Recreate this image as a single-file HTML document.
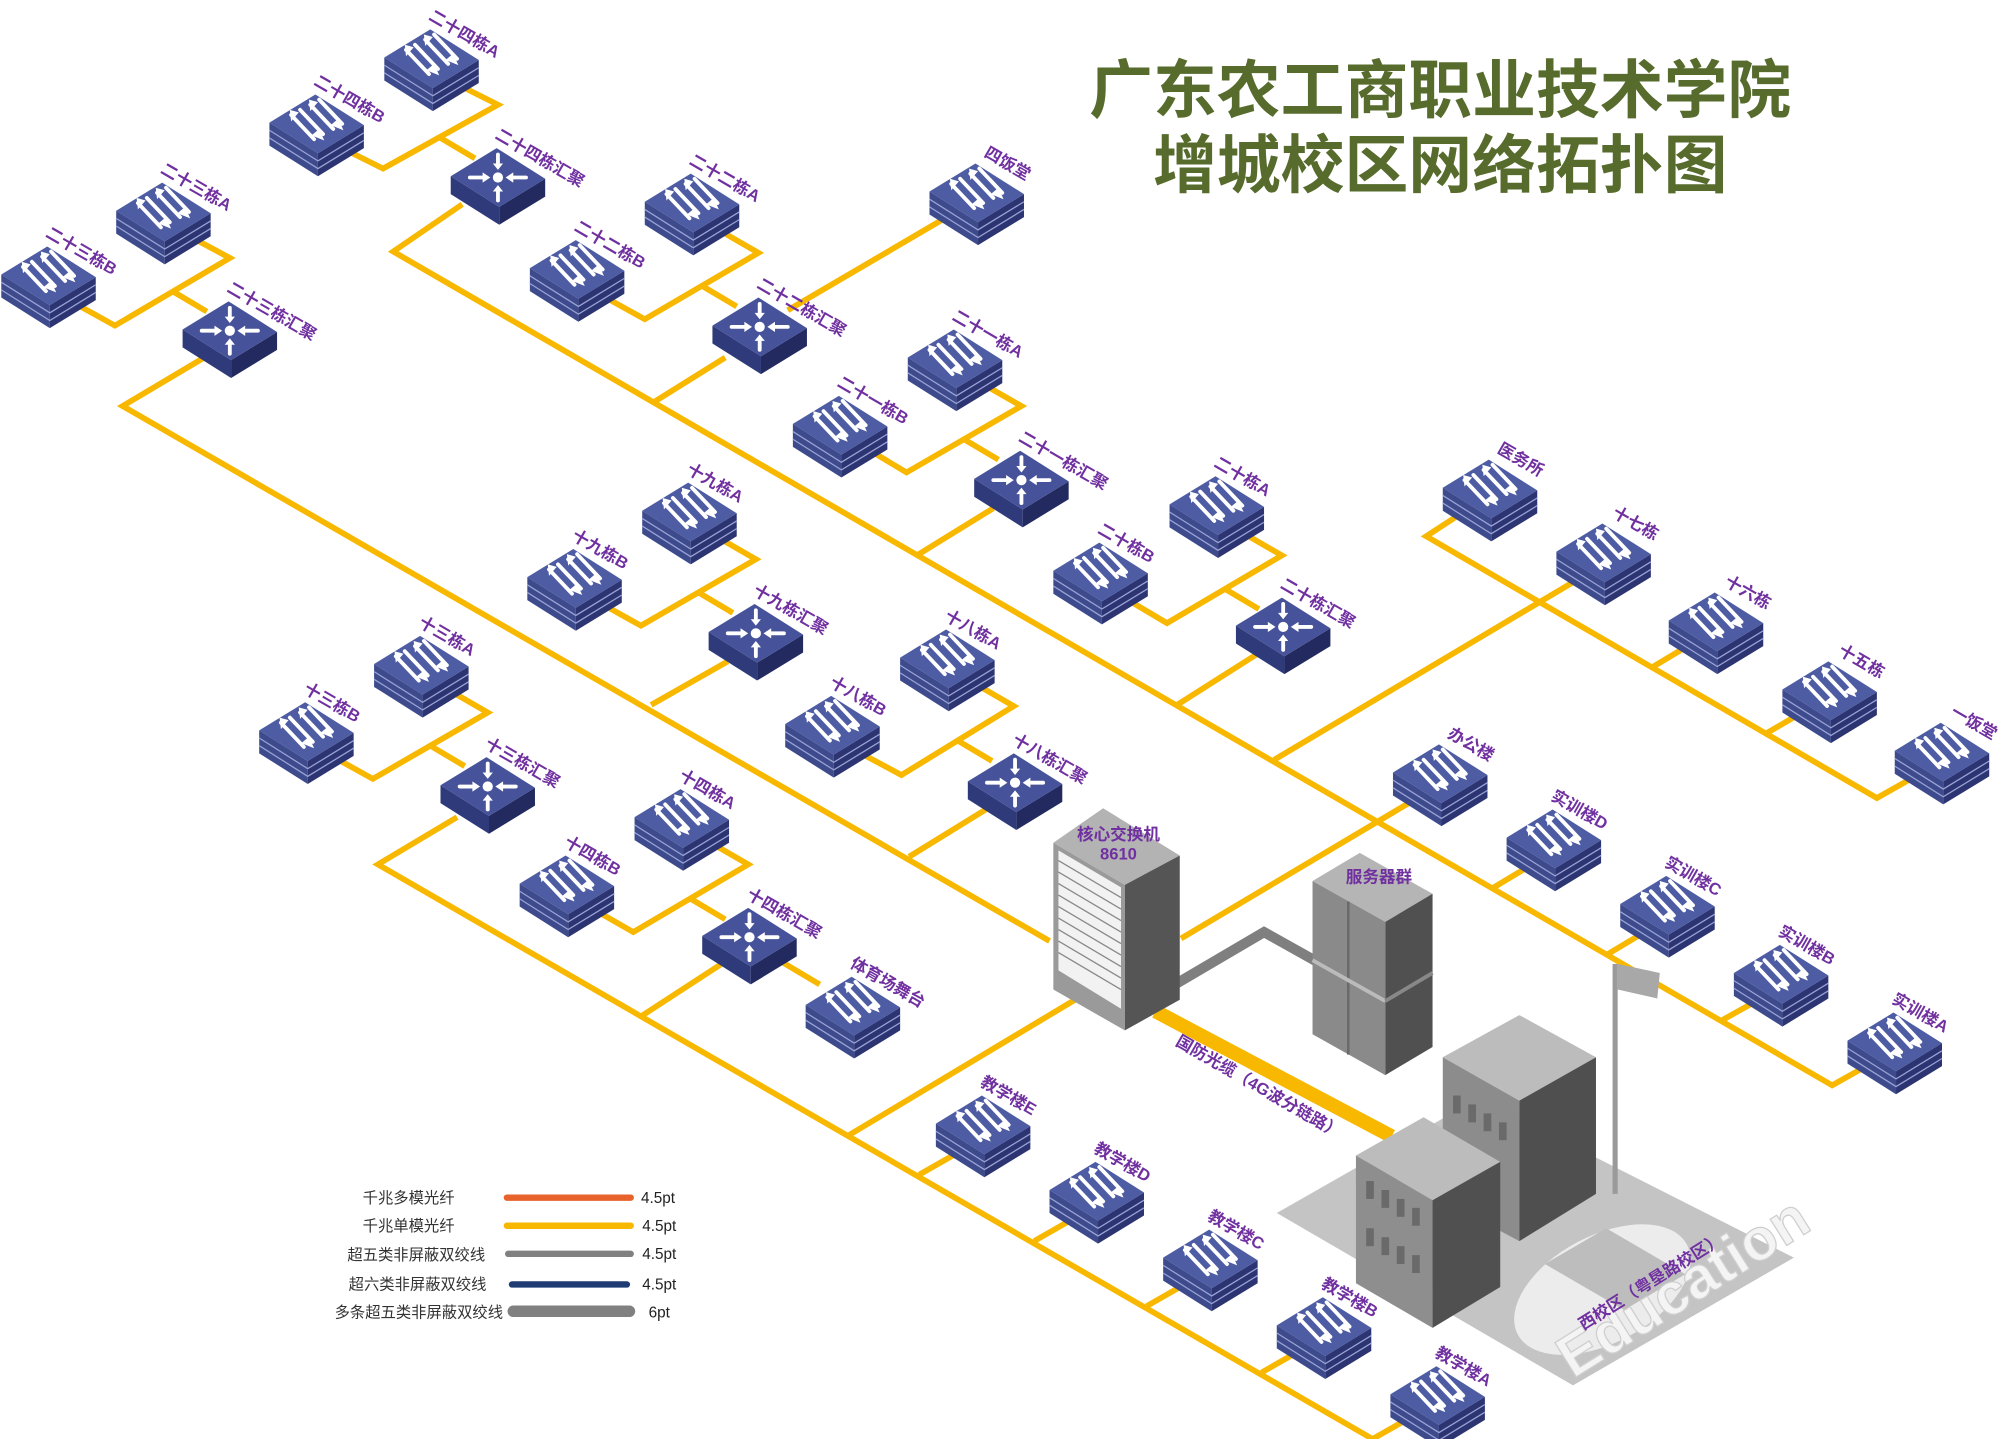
<!DOCTYPE html>
<html><head><meta charset="utf-8"><style>
html,body{margin:0;padding:0;background:#fff;}
svg{display:block;}
text{font-family:"Liberation Sans","Noto Sans CJK SC",sans-serif;}
.lb{fill:#7030a0;font-size:13px;font-weight:bold;}
</style></head><body>
<svg width="2002" height="1439" viewBox="0 0 1568 1127" xmlns="http://www.w3.org/2000/svg">
<defs>
<g id="sw">
 <polygon points="-37,0 1,24 1,42 -37,18" fill="#3d4a8c"/>
 <polygon points="1,24 37,2 37,20 1,42" fill="#2c3572"/>
 <polyline points="-37,6 1,30 37,8" fill="none" stroke="#9aa3d6" stroke-width="1"/>
 <polyline points="-37,12 1,36 37,14" fill="none" stroke="#9aa3d6" stroke-width="1"/>
 <polygon points="-37,0 -1,-22 37,2 1,24" fill="#4d5ca3"/>
 <g stroke="#fff" stroke-width="3" fill="none" stroke-linecap="round">
  <line x1="-20" y1="-6" x2="-2" y2="13"/>
  <line x1="-13" y1="-10" x2="5" y2="9"/>
  <line x1="-5" y1="-14" x2="13" y2="5"/>
  <line x1="2" y1="-18" x2="20" y2="1"/>
 </g>
 <g fill="#fff">
  <polygon points="-21,-10 -20,-1 -14,-8"/>
  <polygon points="6,14 -4,10 2,5"/>
  <polygon points="-6,-18 -5,-9 1,-16"/>
  <polygon points="21,6 11,2 17,-3"/>
 </g>
</g>
<g id="ag">
 <polygon points="-37,0 1,24 1,38 -37,14" fill="#2f3a7a"/>
 <polygon points="1,24 37,2 37,16 1,38" fill="#222a60"/>
 <polygon points="-37,0 -1,-22 37,2 1,24" fill="#46539a"/>
 <circle cx="0" cy="1" r="4" fill="#fff"/>
 <g stroke="#fff" stroke-width="3" stroke-linecap="round">
  <line x1="-22" y1="1" x2="-9" y2="1"/><line x1="22" y1="1" x2="9" y2="1"/>
  <line x1="0" y1="-17" x2="0" y2="-8"/><line x1="0" y1="19" x2="0" y2="10"/>
 </g>
 <g fill="#fff">
  <polygon points="-6,1 -12,-3 -12,5"/><polygon points="6,1 12,-3 12,5"/>
  <polygon points="0,-5 -4,-10 4,-10"/><polygon points="0,7 -4,12 4,12"/>
 </g>
</g>
</defs>

<!-- title -->
<text x="1128" y="88" text-anchor="middle" font-size="50" font-weight="bold" fill="#566b2c">广东农工商职业技术学院</text>
<text x="1128" y="147" text-anchor="middle" font-size="50" font-weight="bold" fill="#566b2c">增城校区网络拓扑图</text>

<!-- yellow lines -->
<g fill="none" stroke="#f8b800" stroke-width="4.5" stroke-linejoin="miter">
 <polyline points="362,68 390,82 300,132 272,118"/><line x1="345" y1="108" x2="372" y2="124"/>
 <polyline points="362,160 308,197 1435,850 1460,836"/>
 <polyline points="154,188 180,202 90,255 63,240"/><line x1="135" y1="228" x2="162" y2="244"/>
 <polyline points="160,280 96,318 822,737"/>
 <polyline points="568,183 594,198 505,250 478,235"/><line x1="550" y1="224" x2="577" y2="240"/>
 <polyline points="568,280 512,315"/>
 <line x1="745" y1="168" x2="617" y2="243"/>
 <polyline points="772,302 800,318 710,370 685,355"/><line x1="755" y1="344" x2="782" y2="360"/>
 <polyline points="778,398 718,435"/>
 <polyline points="978,420 1004,435 914,488 887,472"/><line x1="959" y1="461" x2="986" y2="477"/>
 <polyline points="985,512 922,552"/>
 <polyline points="566,423 592,438 502,490 475,475"/><line x1="547" y1="464" x2="574" y2="480"/>
 <polyline points="570,518 510,552"/>
 <polyline points="768,538 794,553 706,607 678,592"/><line x1="750" y1="580" x2="777" y2="596"/>
 <polyline points="772,634 712,671"/>
 <polyline points="356,543 382,558 292,610 265,595"/><line x1="337" y1="584" x2="364" y2="600"/>
 <polyline points="358,640 296,677 1075,1127 1105,1110"/>
 <polyline points="560,662 586,677 496,730 468,714"/><line x1="541" y1="704" x2="568" y2="720"/>
 <polyline points="565,755 502,796"/>
 <line x1="610" y1="752" x2="642" y2="771"/>
 <line x1="842" y1="783" x2="665" y2="889"/>
 <line x1="1232" y1="456" x2="998" y2="595"/>
 <line x1="925" y1="735" x2="1105" y2="628"/>
 <polyline points="1140,405 1117,420 1470,625 1500,608"/>
 <line x1="1295" y1="522" x2="1320" y2="507"/>
 <line x1="1384" y1="574" x2="1408" y2="560"/>
 <line x1="1170" y1="695" x2="1195" y2="680"/>
 <line x1="1258" y1="748" x2="1283" y2="733"/>
 <line x1="1347" y1="800" x2="1372" y2="786"/>
 <line x1="720" y1="920" x2="748" y2="904"/>
 <line x1="810" y1="972" x2="838" y2="956"/>
 <line x1="898" y1="1023" x2="926" y2="1007"/>
 <line x1="988" y1="1075" x2="1016" y2="1059"/>
</g>

<!-- gray link -->
<polyline points="922,770 990,730 1040,758" fill="none" stroke="#7f7f7f" stroke-width="8"/>
<!-- thick fibre -->
<line x1="905" y1="792" x2="1090" y2="890" stroke="#f8b800" stroke-width="11"/>
<text class="lb" transform="translate(920,818) rotate(30)" font-size="13">国防光缆（4G波分链路）</text>

<!-- campus -->
<polygon points="1000,950 1158,860 1405,985 1232,1085" fill="#c4c4c4"/>
<ellipse cx="1255" cy="1010" rx="75" ry="42" fill="#ececec" transform="rotate(-28 1255 1010)"/>
<polygon points="1210,990 1258,962 1320,998 1272,1026" fill="#bdbdbd"/>
<polygon points="1130,828 1190,795 1250,828 1190,862" fill="#bcbcbc"/>
<polygon points="1130,828 1190,862 1190,972 1130,940" fill="#8c8c8c"/>
<polygon points="1190,862 1250,828 1250,935 1190,972" fill="#4f4f4f"/>
<polygon points="1062,905 1115,875 1175,910 1122,940" fill="#bcbcbc"/>
<polygon points="1062,905 1122,940 1122,1040 1062,1005" fill="#8e8e8e"/>
<polygon points="1122,940 1175,910 1175,1008 1122,1040" fill="#505050"/>
<g fill="#6a6a6a">
 <rect x="1070" y="925" width="6" height="14"/><rect x="1082" y="932" width="6" height="14"/><rect x="1094" y="939" width="6" height="14"/><rect x="1106" y="946" width="6" height="14"/>
 <rect x="1070" y="962" width="6" height="14"/><rect x="1082" y="969" width="6" height="14"/><rect x="1094" y="976" width="6" height="14"/><rect x="1106" y="983" width="6" height="14"/>
 <rect x="1138" y="858" width="6" height="14"/><rect x="1150" y="865" width="6" height="14"/><rect x="1162" y="872" width="6" height="14"/><rect x="1174" y="879" width="6" height="14"/>
</g>
<line x1="1265" y1="755" x2="1265" y2="935" stroke="#9a9a9a" stroke-width="4"/>
<polygon points="1267,755 1300,762 1298,782 1267,775" fill="#a8a8a8"/>
<text transform="translate(1232,1080) rotate(-32)" font-size="46" font-weight="bold" fill="#f4f4f4" stroke="#cfcfcf" stroke-width="1">Education</text>
<text class="lb" transform="translate(1240,1042) rotate(-32)" font-size="14">西校区（粤垦路校区）</text>

<!-- core switch -->
<polygon points="825,660 864,633 924,670 881,693" fill="#b3b3b3"/>
<polygon points="825,660 881,693 881,807 825,775" fill="#9a9a9a"/>
<polygon points="881,693 924,670 924,783 881,807" fill="#555"/>
<polygon points="829,666 878,695 878,790 829,760" fill="#f2f2f2"/>
<g stroke="#888" stroke-width="1">
 <line x1="829" y1="674" x2="878" y2="703"/><line x1="829" y1="683" x2="878" y2="712"/><line x1="829" y1="692" x2="878" y2="721"/><line x1="829" y1="701" x2="878" y2="730"/><line x1="829" y1="710" x2="878" y2="739"/><line x1="829" y1="719" x2="878" y2="748"/><line x1="829" y1="728" x2="878" y2="757"/><line x1="829" y1="737" x2="878" y2="766"/><line x1="829" y1="746" x2="878" y2="775"/>
</g>
<text class="lb" x="876" y="658" text-anchor="middle" font-size="12">核心交换机</text>
<text class="lb" x="876" y="673" text-anchor="middle" font-size="12">8610</text>

<!-- servers -->
<polygon points="1028,690 1065,668 1122,700 1085,722" fill="#b5b5b5"/>
<polygon points="1028,690 1085,722 1085,842 1028,810" fill="#8a8a8a"/>
<polygon points="1085,722 1122,700 1122,820 1085,842" fill="#505050"/>
<line x1="1056" y1="706" x2="1056" y2="826" stroke="#6a6a6a" stroke-width="2"/>
<line x1="1028" y1="752" x2="1085" y2="784" stroke="#bbb" stroke-width="3"/>
<line x1="1085" y1="784" x2="1122" y2="762" stroke="#888" stroke-width="3"/>
<text class="lb" x="1080" y="691" text-anchor="middle" font-size="14">服务器群</text>

<!-- switches -->
<g>
<use href="#sw" x="338" y="45"/><use href="#sw" x="248" y="96"/>
<use href="#sw" x="128" y="165"/><use href="#sw" x="38" y="215"/>
<use href="#ag" x="390" y="138"/><use href="#ag" x="180" y="258"/>
<use href="#sw" x="542" y="158"/><use href="#sw" x="452" y="210"/><use href="#ag" x="595" y="255"/>
<use href="#sw" x="765" y="150"/>
<use href="#sw" x="748" y="280"/><use href="#sw" x="658" y="332"/><use href="#ag" x="800" y="375"/>
<use href="#sw" x="953" y="395"/><use href="#sw" x="862" y="447"/><use href="#ag" x="1005" y="490"/>
<use href="#sw" x="540" y="400"/><use href="#sw" x="450" y="452"/><use href="#ag" x="592" y="495"/>
<use href="#sw" x="742" y="515"/><use href="#sw" x="652" y="567"/><use href="#ag" x="795" y="612"/>
<use href="#sw" x="330" y="520"/><use href="#sw" x="240" y="572"/><use href="#ag" x="382" y="615"/>
<use href="#sw" x="534" y="640"/><use href="#sw" x="444" y="692"/><use href="#ag" x="587" y="733"/>
<use href="#sw" x="668" y="787"/>
<use href="#sw" x="1167" y="382"/><use href="#sw" x="1256" y="432"/><use href="#sw" x="1344" y="486"/><use href="#sw" x="1433" y="540"/><use href="#sw" x="1521" y="588"/>
<use href="#sw" x="1128" y="605"/><use href="#sw" x="1217" y="656"/><use href="#sw" x="1306" y="708"/><use href="#sw" x="1395" y="762"/><use href="#sw" x="1484" y="815"/>
<use href="#sw" x="770" y="880"/><use href="#sw" x="859" y="932"/><use href="#sw" x="948" y="985"/><use href="#sw" x="1037" y="1038"/><use href="#sw" x="1126" y="1092"/>
</g>

<!-- labels -->
<g class="lb">
<text transform="translate(335,15) rotate(30)">二十四栋A</text>
<text transform="translate(245,66) rotate(30)">二十四栋B</text>
<text transform="translate(125,135) rotate(30)">二十三栋A</text>
<text transform="translate(35,185) rotate(30)">二十三栋B</text>
<text transform="translate(387,108) rotate(30)">二十四栋汇聚</text>
<text transform="translate(177,228) rotate(30)">二十三栋汇聚</text>
<text transform="translate(539,128) rotate(30)">二十二栋A</text>
<text transform="translate(449,180) rotate(30)">二十二栋B</text>
<text transform="translate(592,225) rotate(30)">二十二栋汇聚</text>
<text transform="translate(770,122) rotate(30)">四饭堂</text>
<text transform="translate(745,250) rotate(30)">二十一栋A</text>
<text transform="translate(655,302) rotate(30)">二十一栋B</text>
<text transform="translate(797,345) rotate(30)">二十一栋汇聚</text>
<text transform="translate(950,365) rotate(30)">二十栋A</text>
<text transform="translate(859,417) rotate(30)">二十栋B</text>
<text transform="translate(1002,460) rotate(30)">二十栋汇聚</text>
<text transform="translate(537,370) rotate(30)">十九栋A</text>
<text transform="translate(447,422) rotate(30)">十九栋B</text>
<text transform="translate(589,465) rotate(30)">十九栋汇聚</text>
<text transform="translate(739,485) rotate(30)">十八栋A</text>
<text transform="translate(649,537) rotate(30)">十八栋B</text>
<text transform="translate(792,582) rotate(30)">十八栋汇聚</text>
<text transform="translate(327,490) rotate(30)">十三栋A</text>
<text transform="translate(237,542) rotate(30)">十三栋B</text>
<text transform="translate(379,585) rotate(30)">十三栋汇聚</text>
<text transform="translate(531,610) rotate(30)">十四栋A</text>
<text transform="translate(441,662) rotate(30)">十四栋B</text>
<text transform="translate(584,703) rotate(30)">十四栋汇聚</text>
<text transform="translate(665,757) rotate(30)">体育场舞台</text>
<text transform="translate(1172,354) rotate(30)">医务所</text>
<text transform="translate(1262,404) rotate(30)">十七栋</text>
<text transform="translate(1350,458) rotate(30)">十六栋</text>
<text transform="translate(1439,512) rotate(30)">十五栋</text>
<text transform="translate(1527,560) rotate(30)">一饭堂</text>
<text transform="translate(1133,577) rotate(30)">办公楼</text>
<text transform="translate(1214,626) rotate(30)">实训楼D</text>
<text transform="translate(1303,678) rotate(30)">实训楼C</text>
<text transform="translate(1392,732) rotate(30)">实训楼B</text>
<text transform="translate(1481,785) rotate(30)">实训楼A</text>
<text transform="translate(767,850) rotate(30)">教学楼E</text>
<text transform="translate(856,902) rotate(30)">教学楼D</text>
<text transform="translate(945,955) rotate(30)">教学楼C</text>
<text transform="translate(1034,1008) rotate(30)">教学楼B</text>
<text transform="translate(1123,1062) rotate(30)">教学楼A</text>
</g>

<!-- legend -->
<g font-size="12" fill="#333" text-anchor="end" style="font-family:'Liberation Serif','Noto Serif CJK SC',serif">
<text x="356" y="942">千兆多模光纤</text>
<text x="356" y="964">千兆单模光纤</text>
<text x="380" y="987">超五类非屏蔽双绞线</text>
<text x="381" y="1010">超六类非屏蔽双绞线</text>
<text x="394" y="1032">多条超五类非屏蔽双绞线</text>
</g>
<g stroke-linecap="round">
<line x1="397" y1="938" x2="494" y2="938" stroke="#e8632b" stroke-width="5"/>
<line x1="397" y1="960" x2="494" y2="960" stroke="#f8b800" stroke-width="5"/>
<line x1="398" y1="982" x2="494" y2="982" stroke="#808080" stroke-width="5"/>
<line x1="401" y1="1006" x2="491" y2="1006" stroke="#1f3b73" stroke-width="5"/>
<line x1="402" y1="1027" x2="493" y2="1027" stroke="#808080" stroke-width="9"/>
</g>
<g font-size="12" fill="#222">
<text x="502" y="942">4.5pt</text><text x="503" y="964">4.5pt</text><text x="503" y="986">4.5pt</text><text x="503" y="1010">4.5pt</text><text x="508" y="1032">6pt</text>
</g>
</svg>
</body></html>
